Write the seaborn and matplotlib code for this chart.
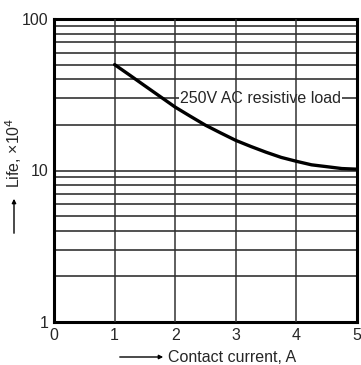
import numpy as np
import matplotlib
matplotlib.use("Agg")
import matplotlib.pyplot as plt
import seaborn as sns

# values
current = [1.0, 1.25, 1.5, 1.75, 2.0, 2.25, 2.5, 2.75, 3.0,
           3.25, 3.5, 3.75, 4.0, 4.25, 4.5, 4.75, 5.0]
life = [50.0, 42.6, 36.2, 30.8, 26.2, 22.8, 19.9, 17.7, 15.8,
        14.4, 13.2, 12.2, 11.5, 10.9, 10.6, 10.3, 10.2]
x_ticks = [0, 1, 2, 3, 4, 5]
y_ticks = [1, 10, 100]
y_tick_labels = ["1", "10", "100"]
curve_label = "250V AC resistive load"

sns.set_theme(style="white")
plt.rcParams["font.family"] = ["Liberation Sans", "DejaVu Sans"]
fs = 11.5

fig = plt.figure(figsize=(3.61, 3.65), dpi=100)
ax = fig.add_axes([54 / 361, 1 - 322 / 365, 303 / 361, 303 / 365])

ax.set_xlim(0, 5)
ax.set_ylim(1, 100)
ax.set_yscale("log")

# horizontal grid (minor + major decades)
minor = [m * d for d in (1, 10) for m in range(2, 10)]
for v in minor + [10]:
    ax.axhline(v, color="#222222", lw=1.1, zorder=1)
# vertical grid, drawn above the label box
for v in x_ticks[1:-1]:
    ax.axvline(v, color="#333333", lw=1.1, zorder=3)

sns.lineplot(x=current, y=life, ax=ax, color="black", lw=2.4, zorder=4)

ax.text(2.08, 30, curve_label, fontsize=fs, va="center", ha="left",
        zorder=2, bbox=dict(facecolor="white", edgecolor="none", pad=0.5))

ax.set_xticks(x_ticks)
ax.set_xticklabels([str(t) for t in x_ticks], fontsize=fs)
ax.set_yticks(y_ticks)
ax.set_yticklabels(y_tick_labels, fontsize=fs)
ax.yaxis.set_minor_locator(matplotlib.ticker.NullLocator())
ax.tick_params(length=0, pad=4)
for s in ax.spines.values():
    s.set_color("black")
    s.set_linewidth(2.2)
ax.set_xlabel("")
ax.set_ylabel("")

# axis titles with leading arrows
fig.text(14 / 361, 1 - 153 / 365, "Life, \u00d710$^4$", rotation=90,
         ha="center", va="center", fontsize=fs)
fig.add_artist(matplotlib.patches.FancyArrowPatch(
    (14 / 361, 1 - 236 / 365), (14 / 361, 1 - 196 / 365),
    transform=fig.transFigure, arrowstyle="-|>", mutation_scale=6,
    lw=1.0, color="black"))
fig.text(168 / 361, 1 - 357 / 365, "Contact current, A",
         ha="left", va="center", fontsize=fs)
fig.add_artist(matplotlib.patches.FancyArrowPatch(
    (117 / 361, 1 - 357 / 365), (166 / 361, 1 - 357 / 365),
    transform=fig.transFigure, arrowstyle="-|>", mutation_scale=6,
    lw=1.0, color="black"))

fig.savefig("out.png", dpi=100)
